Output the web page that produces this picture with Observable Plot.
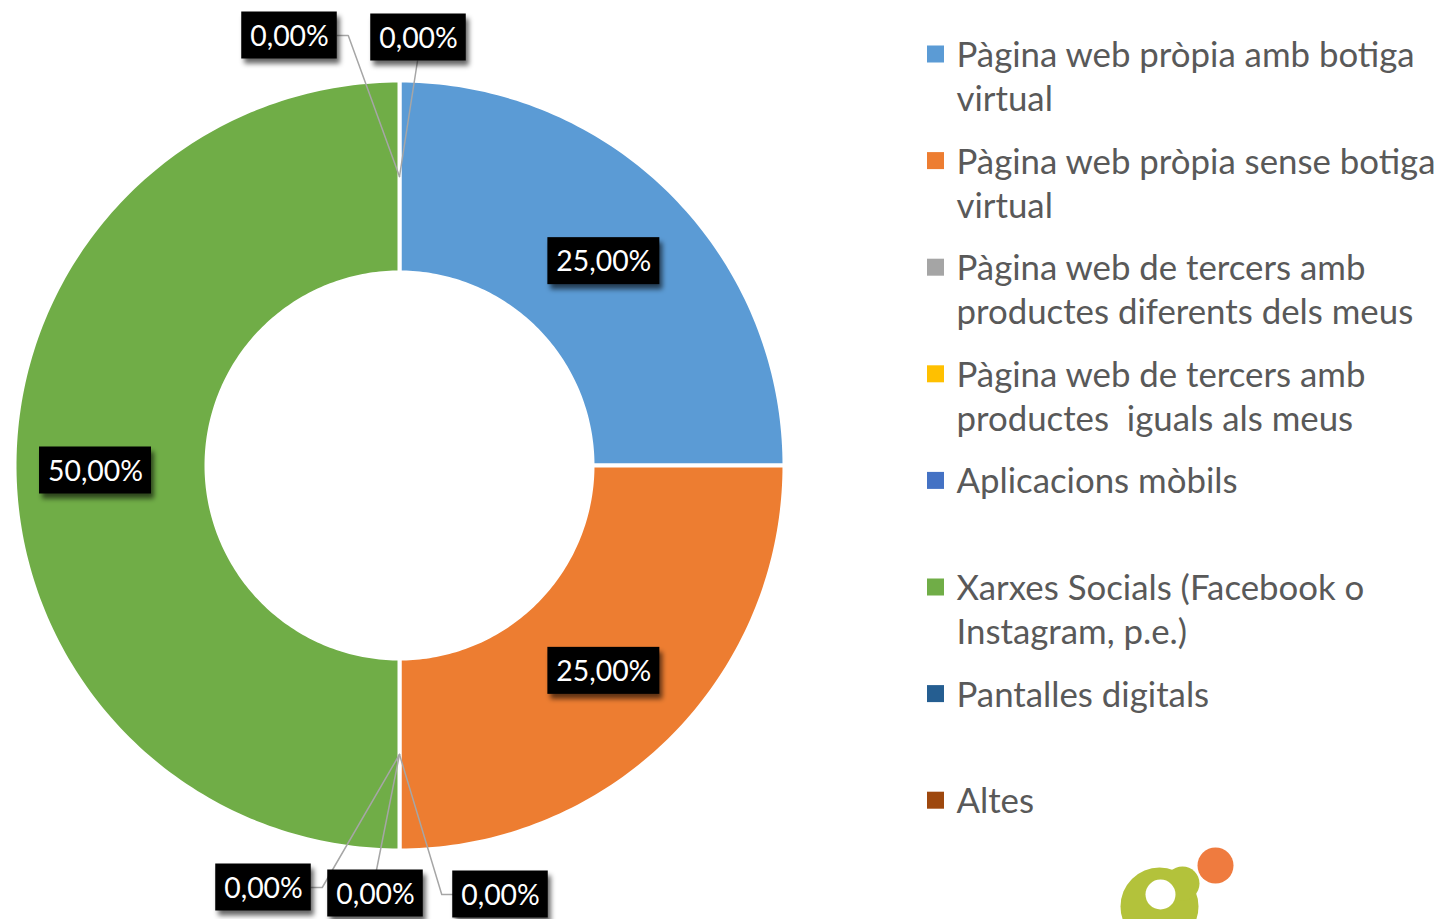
<!DOCTYPE html>
<html><head><meta charset="utf-8">
<script src="https://cdn.jsdelivr.net/npm/d3@7"></script>
<script src="https://cdn.jsdelivr.net/npm/@observablehq/plot@0.6"></script>
<style>
html,body{margin:0;padding:0;background:#fff;overflow:hidden}
#chart svg{display:block}
#chart text{white-space:pre}
</style></head><body><div id="chart"></div>
<script>
// ---- data ----
const categories = [
  "Pàgina web pròpia amb botiga virtual",
  "Pàgina web pròpia sense botiga virtual",
  "Pàgina web de tercers amb productes diferents dels meus",
  "Pàgina web de tercers amb productes  iguals als meus",
  "Aplicacions mòbils",
  "Xarxes Socials (Facebook o Instagram, p.e.)",
  "Pantalles digitals",
  "Altes"
];
const values = [25, 25, 0, 0, 0, 50, 0, 0];
const colors = ["#5B9BD5", "#ED7D31", "#A5A5A5", "#FFC000", "#4472C4", "#70AD47", "#255E91", "#9E480E"];

// ---- layout (not data) ----
const labelLayout = [
  {dx: 0, dy: 0, attach: null},
  {dx: 0, dy: 1, attach: null},
  {dx: 101, dy: 140, attach: "left"},
  {dx: -24, dy: 139, attach: "top"},
  {dx: -136, dy: 133, attach: "right"},
  {dx: -15, dy: 5, attach: null},
  {dx: -110, dy: -141, attach: "right"},
  {dx: 19, dy: -139, attach: "bottom"}
];
const logoShapes = [
  {x: 1159, y: 906, r: 39, color: "#B3C23B"},
  {x: 1182, y: 883, r: 17, color: "#B3C23B"},
  {x: 1160, y: 894, r: 15, color: "#FFFFFF"},
  {x: 1215, y: 865, r: 18, color: "#EF7B3F"}
];

const W = 1439, H = 919;
const cx = 399, cy = 465, R = 385, R0 = 193, rMid = 289;
const FONT = "Lato";
const locale = d3.formatLocale({decimal: ",", thousands: ".", grouping: [3], currency: ["", " €"]});
const fmt = locale.format(".2%");

const ctx = document.createElement("canvas").getContext("2d");
function measure(t, fs) { ctx.font = `${fs}px ${FONT}`; return ctx.measureText(t).width; }
const labelFs = 30 * 95 / measure("25,00%", 30);
const legendFs = 35 * 459 / measure("Pàgina web pròpia amb botiga", 35);

function wrap(text, maxW) {
  const words = text.split(" ");
  const lines = [];
  let cur = "";
  for (const w of words) {
    const cand = cur === "" ? w : cur + " " + w;
    if (cur !== "" && w !== "" && measure(cand, legendFs) > maxW) { lines.push(cur); cur = w; }
    else cur = cand;
  }
  lines.push(cur);
  return lines;
}

const data = categories.map((c, i) => ({category: c, value: values[i], color: colors[i], layout: labelLayout[i]}));
const arcs = d3.pie().sort(null).value(d => d.value).startAngle(0).endAngle(2 * Math.PI)(data);
const pt = (r, a) => ({x: cx + r * Math.sin(a), y: cy - r * Math.cos(a)});

const slicePts = [];
arcs.filter(a => a.data.value > 0).forEach(a => {
  const span = a.endAngle - a.startAngle;
  const n = Math.max(2, Math.ceil(span * 180 / Math.PI));
  for (let k = 0; k <= n; k++) slicePts.push({...pt(R, a.startAngle + span * k / n), category: a.data.category, color: a.data.color});
  for (let k = n; k >= 0; k--) slicePts.push({...pt(R0, a.startAngle + span * k / n), category: a.data.category, color: a.data.color});
});

const labels = arcs.map(a => {
  const mid = (a.startAngle + a.endAngle) / 2;
  const anchor = pt(rMid, mid);
  const L = a.data.layout;
  const text = fmt(a.data.value / 100);
  const w = measure(text, labelFs) + 17, h = 47;
  const x = anchor.x + L.dx, y = anchor.y + L.dy;
  return {text, anchor, x, y, w, h, attach: L.attach, x1: x - w / 2, x2: x + w / 2, y1: y - h / 2, y2: y + h / 2};
});

const leaderPts = [];
labels.forEach((l, i) => {
  if (!l.attach) return;
  const pts = [l.anchor];
  if (l.attach === "left") pts.push({x: l.x1 - 11, y: l.y}, {x: l.x1, y: l.y});
  else if (l.attach === "right") pts.push({x: l.x2 + 11, y: l.y}, {x: l.x2, y: l.y});
  else if (l.attach === "top") pts.push({x: l.x + 1, y: l.y1});
  else if (l.attach === "bottom") pts.push({x: l.x - 1, y: l.y2});
  pts.forEach(p => leaderPts.push({x: p.x, y: p.y, id: i}));
});

const legendSwatches = [], legendLines = [];
categories.forEach((c, i) => {
  const sy = 54 + i * 106.6;
  legendSwatches.push({x1: 927, x2: 944, y1: sy - 8.5, y2: sy + 8.5, color: colors[i]});
  wrap(c, 486).forEach((line, j) => legendLines.push({text: line, x: 956, y: sy + 0.358 * legendFs + j * 44}));
});

const chart = Plot.plot({
  width: W, height: H, margin: 0,
  x: {domain: [0, W], range: [0, W], axis: null},
  y: {domain: [0, H], range: [0, H], axis: null},
  color: {type: "identity"},
  style: {background: "white"},
  marks: [
    Plot.line(slicePts, {x: "x", y: "y", z: "category", fill: "color", stroke: "white", strokeWidth: 4, strokeLinejoin: "round", curve: "linear-closed"}),
    Plot.line(leaderPts, {x: "x", y: "y", z: "id", stroke: "#A6A6A6", strokeWidth: 1.5}),
    Plot.rect(labels, {x1: "x1", x2: "x2", y1: "y1", y2: "y2", fill: "#000", fillOpacity: 0.6, dx: 3, dy: 5, ariaDescription: "label-shadow"}),
    Plot.rect(labels, {x1: "x1", x2: "x2", y1: "y1", y2: "y2", fill: "#000"}),
    Plot.text(labels, {x: "x", y: d => d.y + 0.358 * labelFs, text: "text", fill: "white", fontSize: labelFs, fontFamily: FONT, lineAnchor: "bottom", textAnchor: "middle"}),
    Plot.rect(legendSwatches, {x1: "x1", x2: "x2", y1: "y1", y2: "y2", fill: "color"}),
    Plot.text(legendLines, {x: "x", y: "y", text: "text", fill: "#595959", fontSize: legendFs, fontFamily: FONT, lineAnchor: "bottom", textAnchor: "start"}),
    ...logoShapes.map(s => Plot.dot([s], {x: "x", y: "y", r: s.r, fill: s.color, stroke: null}))
  ]
});

const ns = "http://www.w3.org/2000/svg";
const defs = document.createElementNS(ns, "defs");
defs.innerHTML = '<filter id="lblShadow" x="-20%" y="-30%" width="140%" height="160%"><feGaussianBlur stdDeviation="2.5"/></filter>';
chart.insertBefore(defs, chart.firstChild);
const sh = chart.querySelector('[aria-description="label-shadow"]');
if (sh) sh.setAttribute("filter", "url(#lblShadow)");
document.getElementById("chart").appendChild(chart);
</script>
</body></html>
